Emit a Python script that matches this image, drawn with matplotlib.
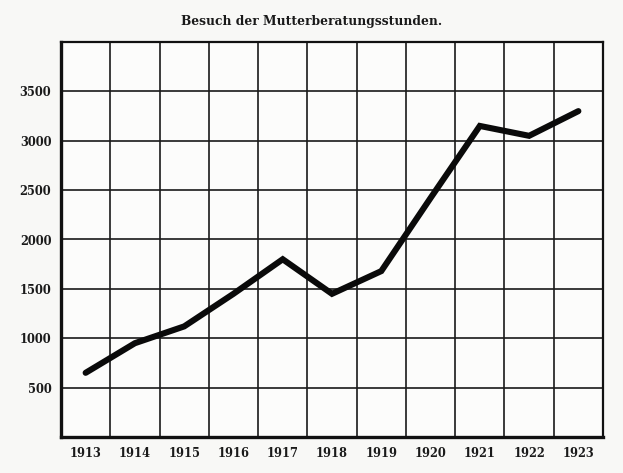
import matplotlib
matplotlib.use("Agg")
import matplotlib.pyplot as plt
import numpy as np

years = [1913, 1914, 1915, 1916, 1917, 1918, 1919, 1920, 1921, 1922, 1923]
visits = [650, 950, 1120, 1450, 1800, 1450, 1680, 2420, 3150, 3050, 3300]
year_labels = ["1913", "1914", "1915", "1916", "1917", "1918", "1919", "1920", "1921", "1922", "1923"]
y_ticks = [500, 1000, 1500, 2000, 2500, 3000, 3500]
y_labels = ["500", "1000", "1500", "2000", "2500", "3000", "3500"]
title = "Besuch der Mutterberatungsstunden."

fig = plt.figure(figsize=(6.23, 4.73), dpi=100, facecolor="#f8f8f6")
ax = fig.add_axes([61/623, 36/473, 542/623, 395/473])
ax.set_facecolor("#fcfcfb")

ax.plot(years, visits, color="#0a0a0a", lw=4.4, solid_joinstyle="miter", solid_capstyle="round", zorder=3)

ax.set_xlim(years[0] - 0.5, years[-1] + 0.5)
ax.set_ylim(0, 4000)

ax.set_xticks(years)
ax.set_xticklabels(year_labels)
ax.set_xticks(np.array(years[1:]) - 0.5, minor=True)
ax.set_yticks(y_ticks)
ax.set_yticklabels(y_labels)
ax.set_yticks([4000], minor=True)

ax.tick_params(axis="both", which="both", length=0)
ax.tick_params(axis="x", pad=7)
ax.tick_params(axis="y", pad=7)
for lab in ax.get_xticklabels() + ax.get_yticklabels():
    lab.set_fontfamily("DejaVu Serif")
    lab.set_fontweight("bold")
    lab.set_fontsize(8.3)
    lab.set_color("#1a1a1a")

ax.grid(True, which="minor", axis="x", color="#1a1a1a", lw=1.2)
ax.grid(True, which="major", axis="y", color="#1a1a1a", lw=1.2)
ax.set_axisbelow(True)

for side in ["left", "bottom"]:
    ax.spines[side].set_linewidth(2.4)
for side in ["right", "top"]:
    ax.spines[side].set_linewidth(1.6)
for s in ax.spines.values():
    s.set_color("#111111")

fig.text(0.50, 0.955, title, ha="center", va="center", fontfamily="DejaVu Serif",
         fontweight="bold", fontsize=8.8, color="#1a1a1a")

fig.savefig("out.png", dpi=100, facecolor=fig.get_facecolor())
